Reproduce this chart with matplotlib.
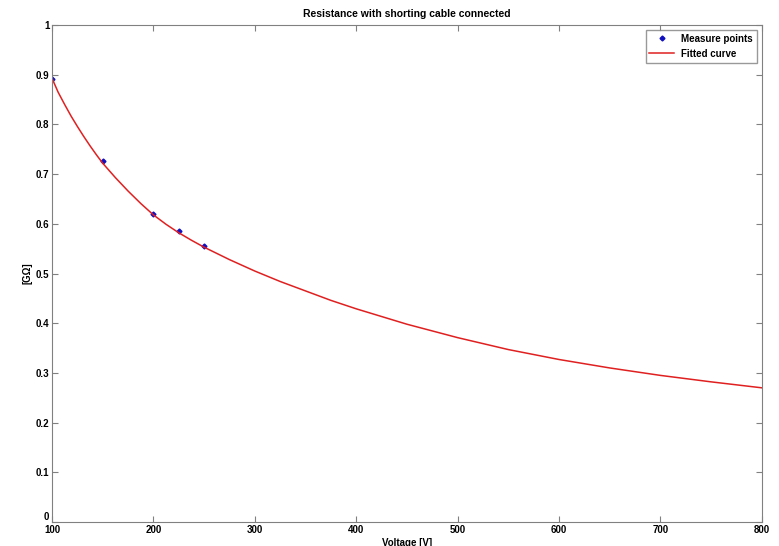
import matplotlib.pyplot as plt
import numpy as np

plt.rc('font', family='Liberation Sans', weight='bold', size=7)
plt.rc('axes', labelweight='bold', titleweight='bold')

# measured points
meas_v = np.array([100, 150, 200, 225, 250])
meas_r = np.array([0.891, 0.727, 0.619, 0.585, 0.555])

# fitted curve
fit_v = np.array([100, 106, 112.5, 118.75, 125, 131.25, 137.5, 143.75, 150,
                  162.5, 175, 187.5, 200, 212.5, 225, 237.5, 250, 275, 300,
                  325, 350, 375, 400, 450, 500, 550, 600, 650, 700, 750, 800])
fit_r = np.array([0.893, 0.865, 0.840, 0.817, 0.796, 0.776, 0.757, 0.739, 0.722,
                  0.693, 0.666, 0.641, 0.618, 0.599, 0.582, 0.567, 0.553, 0.528,
                  0.505, 0.484, 0.465, 0.446, 0.429, 0.398, 0.371, 0.347, 0.327,
                  0.310, 0.295, 0.282, 0.270])

fig = plt.figure(figsize=(7.79, 5.46), dpi=100)
ax = fig.add_axes([0.0668, 0.044, 0.9112, 0.910])

ax.plot(meas_v, meas_r, 'D', color='#1010c0', markersize=2.5, label='Measure points')
ax.plot(fit_v, fit_r, '-', color='#e02020', linewidth=1.1, label='Fitted curve')

ax.set_xlim(100, 800)
ax.set_ylim(0, 1)
ax.set_xticks(np.arange(100, 801, 100))
ax.set_yticks(np.arange(0, 1.01, 0.1))
ax.set_yticklabels(['0', '0.1', '0.2', '0.3', '0.4', '0.5', '0.6', '0.7', '0.8', '0.9', '1'])
ax.tick_params(direction='in', top=True, right=True, length=4, color='#808080', pad=2)
for s in ax.spines.values():
    s.set_color('#808080')
# lift the "0" a little so it sits above the "100"
ax.get_yticklabels()[0].set_verticalalignment('bottom')

ax.set_title('Resistance with shorting cable connected', fontsize=7.5, pad=6)
ax.set_xlabel('Voltage [V]', labelpad=2)
ax.set_ylabel('[G\u03a9]', labelpad=2)

leg = ax.legend(loc='upper right', fancybox=False, edgecolor='#808080',
                borderaxespad=0.5, handlelength=2.5, fontsize=7)

fig.savefig('out.png', dpi=100)
